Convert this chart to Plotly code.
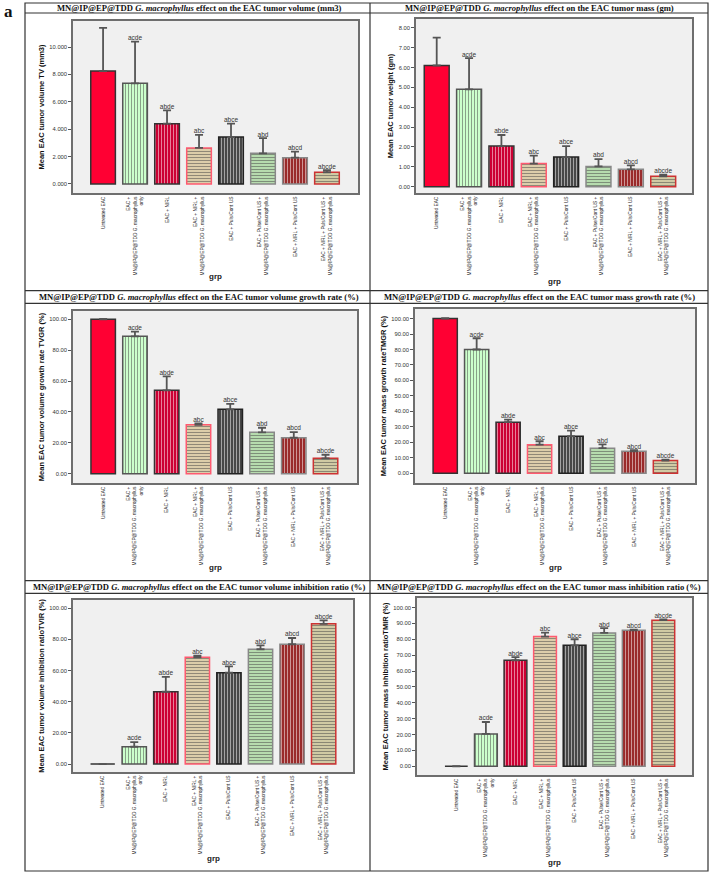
import plotly.graph_objects as go

W, H = 710, 874

groups = [
    "Untreated EAC",
    "EAC +<br>MN@IP@EP@TDD G. macrophyllus<br>only",
    "EAC + NIRL",
    "EAC + NIRL +<br>MN@IP@EP@TDD G. macrophyllus",
    "EAC + Puls/Cont US",
    "EAC + Pulse/Cont US +<br>MN@IP@EP@TDD G. macrophyllus",
    "EAC + NIRL + Puls/Cont US",
    "EAC + NIRL + Puls/Cont US +<br>MN@IP@EP@TDD G. macrophyllus",
]
letters = ["", "acde", "abde", "abc", "abce", "abd", "abcd", "abcde"]

# means and upper end of the error bars
tv_mean = [8.25, 7.35, 4.40, 2.63, 3.43, 2.24, 1.92, 0.85]
tv_top = [11.40, 10.40, 5.38, 3.58, 4.40, 3.34, 2.36, 1.00]

tm_mean = [6.10, 4.90, 2.04, 1.16, 1.49, 1.02, 0.87, 0.52]
tm_top = [7.50, 6.47, 2.60, 1.56, 2.04, 1.39, 1.07, 0.60]

tvgr_mean = [100.0, 89.0, 54.0, 31.7, 41.7, 26.8, 23.3, 10.0]
tvgr_top = [100.3, 92.0, 63.0, 32.6, 45.3, 29.8, 27.0, 12.3]

tmgr_mean = [100.0, 80.0, 33.0, 18.5, 24.0, 16.2, 14.2, 8.2]
tmgr_top = [100.3, 87.3, 34.7, 20.7, 27.5, 18.7, 14.9, 8.8]

tvir_mean = [0.0, 11.1, 46.4, 68.5, 58.6, 73.7, 76.9, 90.0]
tvir_top = [0.0, 14.1, 56.0, 69.6, 62.7, 76.2, 80.9, 92.2]

tmir_mean = [0.0, 20.4, 66.8, 81.7, 76.2, 84.0, 85.7, 92.0]
tmir_top = [0.0, 27.9, 68.7, 84.2, 80.0, 87.0, 86.1, 92.5]

# bar styling (SPSS-like fills)
bar_bg = ["#ff0033", "#ccffcc", "#cc0033", "#dccdaa", "#474747", "#b6dbae", "#9a2a2a", "#d0caa4"]
bar_fg = ["#ff0033", "#b4e2b4", "#99001f", "#f4b8b4", "#2a2a2a", "#e4f5de", "#741c1c", "#ecb4ac"]
bar_shape = ["", "|", "|", "-", "|", "-", "|", "-"]
bar_line = ["#333333", "#555555", "#333333", "#ff5a70", "#222222", "#888888", "#888888", "#cc3333"]

title_tail = [
    "volume (mm3)", "mass (gm)",
    "volume growth rate (%)", "mass growth rate (%)",
    "volume inhibition ratio (%)", "mass inhibition ratio (%)",
]

panels = [
    dict(mean=tv_mean, top=tv_top, ytitle="Mean EAC tumor volume TV (mm3)",
         yr=[-0.66, 11.9], dt=2, fmt=".3f", box=[73, 358, 21, 193], xr=[-0.94, 7.97], grp=277),
    dict(mean=tm_mean, top=tm_top, ytitle="Mean EAC tumor weight (gm)",
         yr=[-0.32, 8.44], dt=1, fmt=".2f", box=[416, 692, 19, 193], xr=[-0.64, 7.89], grp=282),
    dict(mean=tvgr_mean, top=tvgr_top, ytitle="Mean EAC tumor volume growth rate TVGR (%)",
         yr=[-6.0, 105.4], dt=20, fmt=".2f", box=[73, 357, 311, 483], xr=[-0.95, 7.99], grp=567),
    dict(mean=tmgr_mean, top=tmgr_top, ytitle="Mean EAC tumor mass growth rateTMGR (%)",
         yr=[-6.3, 106.2], dt=10, fmt=".2f", box=[415, 695, 309, 483], xr=[-0.96, 7.94], grp=567),
    dict(mean=tvir_mean, top=tvir_top, ytitle="Mean EAC tumor volume inhibition ratioTVIR (%)",
         yr=[-5.1, 105.3], dt=20, fmt=".2f", box=[73, 353, 600, 772], xr=[-0.94, 7.93], grp=858),
    dict(mean=tmir_mean, top=tmir_top, ytitle="Mean EAC tumor mass inhibition ratioTMIR (%)",
         yr=[-5.5, 106.0], dt=10, fmt=".2f", box=[417, 692, 598, 775], xr=[-1.33, 7.97], grp=862),
]

fig = go.Figure()
annotations = []
layout = {}
xs = list(range(len(groups)))

for i, p in enumerate(panels, start=1):
    xa = "x" if i == 1 else f"x{i}"
    ya = "y" if i == 1 else f"y{i}"
    err = [t - m for t, m in zip(p["top"], p["mean"])]
    fig.add_trace(go.Bar(
        x=xs, y=p["mean"], xaxis=xa, yaxis=ya, width=0.77,
        marker=dict(color=bar_bg, line=dict(color=bar_line, width=1.5),
                    pattern=dict(shape=bar_shape, fgcolor=bar_fg, bgcolor=bar_bg,
                                 size=3, solidity=0.35)),
        error_y=dict(type="data", symmetric=False, array=err, arrayminus=[0] * len(err),
                     color="#555555", thickness=1.8, width=4),
        showlegend=False,
    ))
    fig.add_trace(go.Scatter(
        x=xs, y=p["top"], xaxis=xa, yaxis=ya, mode="text", text=letters,
        textposition="top center",
        textfont=dict(family="Liberation Sans", size=6.5, color="#333333"),
        showlegend=False,
    ))
    x0, x1, y0, y1 = p["box"]
    key = "" if i == 1 else str(i)
    layout[f"xaxis{key}"] = dict(
        domain=[x0 / W, x1 / W], range=p["xr"], anchor=ya,
        tickvals=xs, ticktext=groups, tickangle=-90, ticks="",
        tickfont=dict(family="Liberation Sans", size=4.8, color="#222222"),
        showline=True, mirror=True, linecolor="#6e6e6e", linewidth=1.5,
        showgrid=False, zeroline=False,
    )
    layout[f"yaxis{key}"] = dict(
        domain=[1 - y1 / H, 1 - y0 / H], range=p["yr"], anchor=xa,
        dtick=p["dt"], tick0=0, tickformat=p["fmt"], ticks="outside", ticklen=3,
        tickcolor="#555555",
        tickfont=dict(family="Liberation Sans", size=5.8, color="#333333"),
        title=dict(text=p["ytitle"], standoff=4,
                   font=dict(family="Liberation Sans", size=7.5, color="#111111", weight="bold")),
        showline=True, mirror=True, linecolor="#6e6e6e", linewidth=1.5,
        showgrid=False, zeroline=False,
    )
    annotations.append(dict(
        text="grp", x=(x0 + x1) / 2 / W, y=1 - p["grp"] / H, xref="paper", yref="paper",
        xanchor="center", yanchor="middle", showarrow=False,
        font=dict(family="Liberation Sans", size=8, color="#222222", weight="bold"),
    ))

# table frame with title rows
title_rows = [(3, 13), (291, 303), (581, 593)]
col_centers = [199, 539]
for r, (ty0, ty1) in enumerate(title_rows):
    for c in range(2):
        annotations.append(dict(
            text=f"<b>MN@IP@EP@TDD <i>G. macrophyllus</i> effect on the EAC tumor {title_tail[r * 2 + c]}</b>",
            x=col_centers[c] / W, y=1 - (ty0 + ty1) / 2 / H, xref="paper", yref="paper",
            xanchor="center", yanchor="middle", showarrow=False,
            font=dict(family="Liberation Serif", size=8.6, color="#111111"),
        ))

annotations.append(dict(
    text="<b>a</b>", x=8 / W, y=1 - 11 / H, xref="paper", yref="paper",
    xanchor="center", yanchor="middle", showarrow=False,
    font=dict(family="Liberation Serif", size=17, color="#111111"),
))

shapes = [dict(type="rect", x0=25 / W, x1=708 / W, y0=1 - 871 / H, y1=1 - 3 / H,
               xref="paper", yref="paper", line=dict(color="#333333", width=1.2))]
shapes.append(dict(type="line", x0=370 / W, x1=370 / W, y0=1 - 871 / H, y1=1 - 3 / H,
                   xref="paper", yref="paper", line=dict(color="#333333", width=1.2)))
for yy in [13, 290.7, 303.3, 580.7, 593.3]:
    shapes.append(dict(type="line", x0=25 / W, x1=708 / W, y0=1 - yy / H, y1=1 - yy / H,
                       xref="paper", yref="paper", line=dict(color="#333333", width=1.2)))

fig.update_layout(
    width=W, height=H, margin=dict(l=0, r=0, t=0, b=0),
    paper_bgcolor="white", plot_bgcolor="#f0f0f0",
    annotations=annotations, shapes=shapes, bargap=0.22,
    **layout,
)

fig.write_html("out.html", config={"displayModeBar": False},
               post_script="document.body.style.margin='0';")
